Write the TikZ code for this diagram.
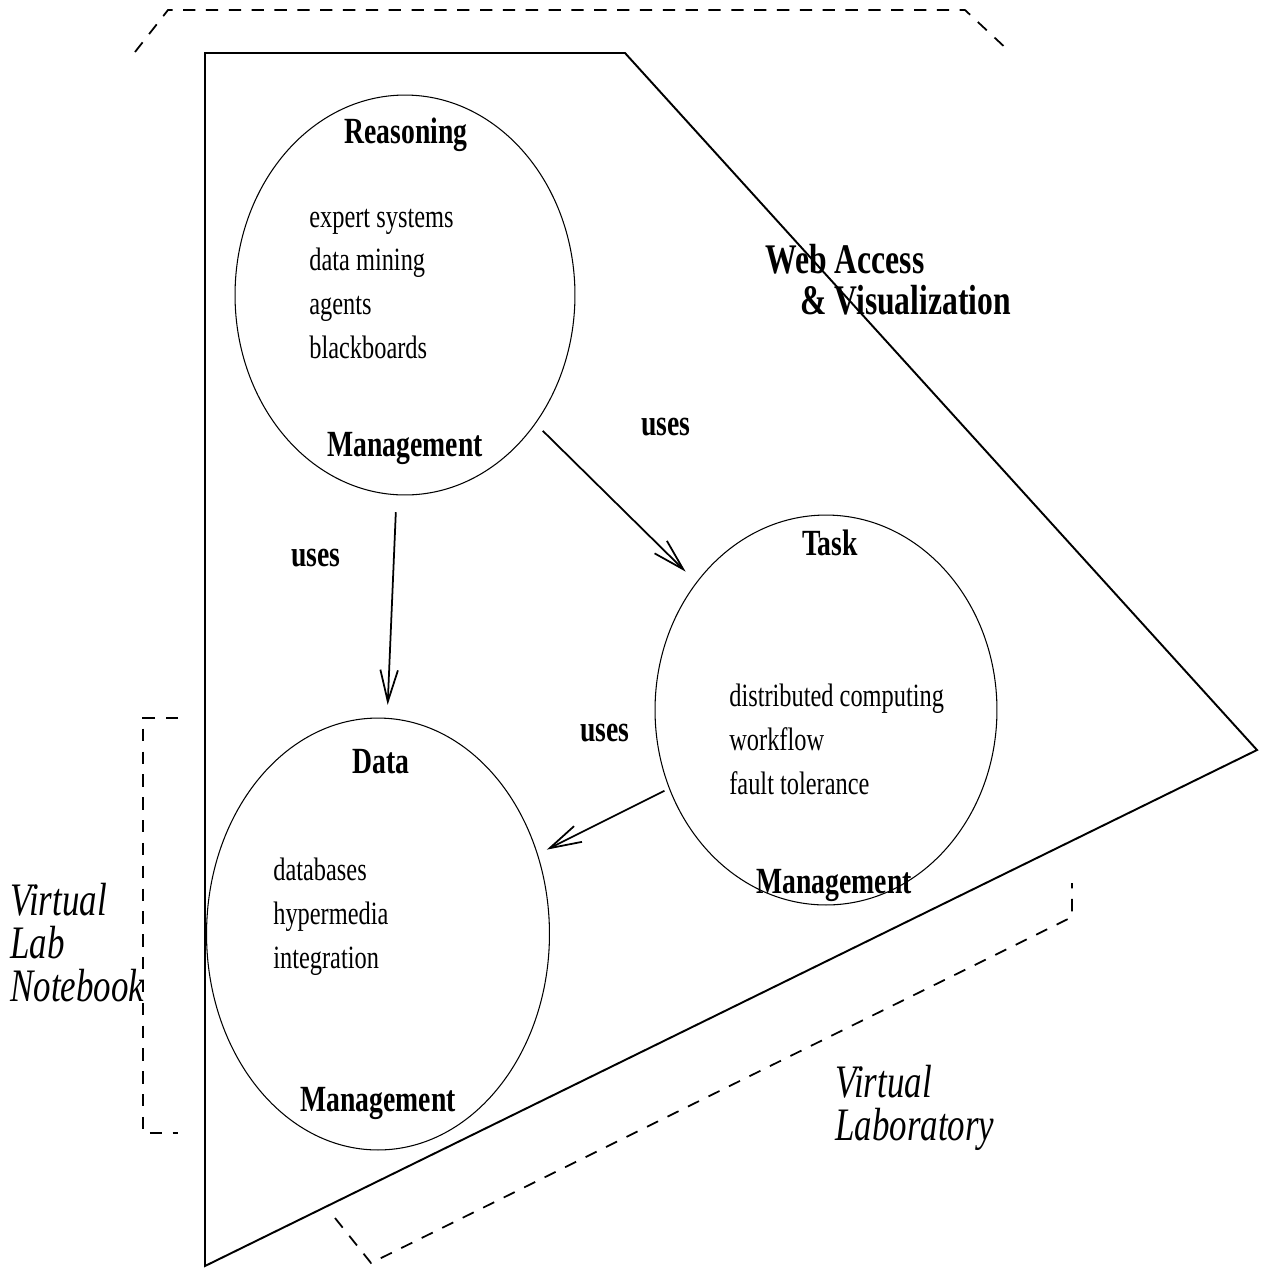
\documentclass[tikz,border=0pt]{standalone}
\usepackage{fontspec}
\setmainfont{Liberation Serif}[FakeStretch=0.75]
\usetikzlibrary{shapes.geometric,arrows.meta}

\begin{document}
\begin{tikzpicture}
  [x=0.02cm, y=-0.02cm,
   blob/.style={draw, ellipse, line width=0.6pt, inner sep=0pt},
   item/.style={anchor=base west, inner sep=0pt, font=\fontsize{18.5}{22}\selectfont},
   title/.style={anchor=base, inner sep=0pt, font=\fontsize{21}{25}\selectfont\bfseries},
   big/.style={anchor=base west, inner sep=0pt, font=\fontsize{24}{28}\selectfont\bfseries},
   side/.style={anchor=base west, inner sep=0pt, font=\fontsize{26.5}{30}\selectfont\itshape},
   frame/.style={line width=1.1pt, line join=miter},
   hull/.style={line width=1pt, dash pattern=on 7pt off 6pt},
   usesarrow/.style={line width=1pt, -{Straight Barb[length=18pt,width=10pt]}}]
  \useasboundingbox (0,0) rectangle (1261,1276);

  % the web access area
  \draw[frame] (205,53) -- (625,53) -- (1257,750) -- (205,1266) -- cycle;
  \node[big] (web) at (765,273) {Web Access};
  \node[big] (vis) at (800,314) {\& Visualization};

  % dashed brackets
  \draw[hull] (135,52) -- (168,10) -- (965,10) -- (1010,52);
  \draw[hull] (178,718) -- (143,718) -- (143,1133) -- (178,1133);
  \draw[hull] (335,1218) -- (371,1263) -- (1072,917) -- (1072,883);

  % the three management ovals
  \node[blob, minimum width=6.8cm, minimum height=8cm] (reason) at (405,295) {};
  \node[blob, minimum width=6.84cm, minimum height=7.8cm] (task) at (826,710) {};
  \node[blob, minimum width=6.86cm, minimum height=8.64cm] (data) at (378,934) {};

  \node[title] (reasontop) at (406,143) {Reasoning};
  \node[title] (reasonbot) at (405,456) {Management};
  \foreach \t [count=\i] in {expert systems, data mining, agents, blackboards}
    \node[item] (r\i) at (309, 183.3+43.7*\i) {\t};

  \node[title] (tasktop) at (830,555) {Task};
  \node[title] (taskbot) at (834,893) {Management};
  \foreach \t [count=\i] in {distributed computing, workflow, fault tolerance}
    \node[item] (t\i) at (729, 662+44*\i) {\t};

  \node[title] (datatop) at (381,773) {Data};
  \node[title] (databot) at (378,1111) {Management};
  \foreach \t [count=\i] in {databases, hypermedia, integration}
    \node[item] (d\i) at (273, 836+44*\i) {\t};

  % uses arrows
  \draw[usesarrow, shorten <=0.34cm, shorten >=0.26cm] (reason) -- (data);
  \draw[usesarrow, shorten <=0.2cm, shorten >=0.3cm] (reason) -- (task);
  \draw[usesarrow, shorten <=0.1cm, shorten >=0.2cm] (task) -- (data);
  \node[title] (uses1) at (666,435) {uses};
  \node[title] (uses2) at (316,566) {uses};
  \node[title] (uses3) at (605,741) {uses};

  % side labels
  \node[side] (vl1) at (10,915) {Virtual};
  \node[side] (vl2) at (10,958) {Lab};
  \node[side] (vl3) at (10,1001) {Notebook};
  \node[side] (lab1) at (835,1097) {Virtual};
  \node[side] (lab2) at (835,1140) {Laboratory};
\end{tikzpicture}
\end{document}
